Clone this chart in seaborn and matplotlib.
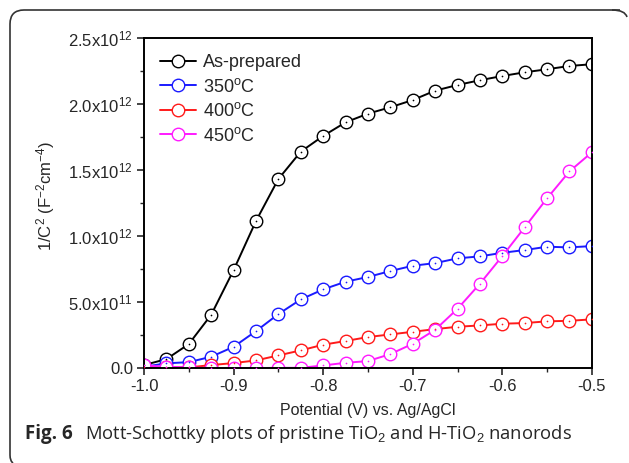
import pandas as pd
import seaborn as sns
import matplotlib.pyplot as plt
from matplotlib.path import Path
from matplotlib.patches import PathPatch

# Potential (V vs. Ag/AgCl), one point every 25 mV
potential = [-1.0, -0.975, -0.95, -0.925, -0.9, -0.875, -0.85, -0.825, -0.8, -0.775, -0.75,
             -0.725, -0.7, -0.675, -0.65, -0.625, -0.6, -0.575, -0.55, -0.525, -0.5]

# 1/C^2 values, in units of 1e12 F^-2 cm^-4
as_prepared = [0.023, 0.068, 0.182, 0.404, 0.742, 1.114, 1.432, 1.639, 1.758, 1.861, 1.927,
               1.975, 2.030, 2.101, 2.144, 2.180, 2.212, 2.240, 2.263, 2.288, 2.301]
t350 = [0.010, 0.036, 0.045, 0.086, 0.161, 0.280, 0.409, 0.520, 0.596, 0.654, 0.690,
        0.735, 0.775, 0.795, 0.831, 0.846, 0.873, 0.894, 0.919, 0.914, 0.924]
t400 = [0.010, 0.006, 0.005, 0.023, 0.038, 0.058, 0.096, 0.134, 0.177, 0.205, 0.235,
        0.255, 0.275, 0.295, 0.313, 0.323, 0.336, 0.341, 0.354, 0.358, 0.369]
t450 = [0.020, 0.010, 0.005, 0.000, 0.000, 0.000, 0.002, 0.002, 0.020, 0.040, 0.053,
        0.106, 0.184, 0.290, 0.449, 0.639, 0.848, 1.066, 1.286, 1.490, 1.634]

series_names = ["As-prepared", "350$^{\\rm o}$C", "400$^{\\rm o}$C", "450$^{\\rm o}$C"]
series_values = [as_prepared, t350, t400, t450]
colors = ["black", "#1a1aff", "#ff1a1a", "#ff1aff"]

y_ticks = [0.0, 0.5, 1.0, 1.5, 2.0, 2.5]
y_tick_labels = ["0.0", "5.0x10$^{11}$", "1.0x10$^{12}$", "1.5x10$^{12}$",
                 "2.0x10$^{12}$", "2.5x10$^{12}$"]
x_ticks = [-1.0, -0.9, -0.8, -0.7, -0.6, -0.5]

sns.set_style("ticks")
plt.rcParams["font.family"] = ["Liberation Sans", "DejaVu Sans"]
plt.rcParams["mathtext.fontset"] = "custom"
plt.rcParams["mathtext.rm"] = "Liberation Sans"
plt.rcParams["mathtext.it"] = "Liberation Sans"
plt.rcParams["axes.unicode_minus"] = False

fig = plt.figure(figsize=(6.29, 4.63), dpi=100)
ax = fig.add_axes([0.229, 0.205, 0.712, 0.713])

for name, vals, col in zip(series_names, series_values, colors):
    df = pd.DataFrame({"Potential": potential, "InvC2": [v * 1e12 for v in vals]})
    sns.lineplot(data=df, x="Potential", y="InvC2", ax=ax, color=col, linewidth=1.4,
                 marker="o", markersize=9, markerfacecolor="white",
                 markeredgecolor=col, markeredgewidth=1.0, label=name)
    # small centre dot inside each open circle
    sns.scatterplot(data=df, x="Potential", y="InvC2", ax=ax, color=col, s=1.5,
                    linewidth=0, legend=False, zorder=3)

ax.set_xlim(-1.0, -0.5)
ax.set_ylim(0, 2.5e12)
ax.set_xticks(x_ticks)
ax.set_xticklabels([f"{x:.1f}" for x in x_ticks], fontsize=12)
ax.set_xticks([-0.95, -0.85, -0.75, -0.65, -0.55], minor=True)
ax.set_yticks([v * 1e12 for v in y_ticks])
ax.set_yticklabels(y_tick_labels, fontsize=12)
ax.set_yticks([v * 1e12 for v in [0.25, 0.75, 1.25, 1.75, 2.25]], minor=True)
ax.tick_params(axis="both", which="major", direction="out", length=5, width=1.2, pad=3)
ax.tick_params(axis="both", which="minor", direction="out", length=3, width=1.0)
for sp in ax.spines.values():
    sp.set_linewidth(1.4)
    sp.set_color("black")

ax.set_xlabel("Potential (V) vs. Ag/AgCl", fontsize=11.5)
ax.xaxis.set_label_coords(0.5, -0.105)
ax.set_ylabel("1/C$^{2}$ (F$^{-2}$cm$^{-4}$)", fontsize=12)
ax.yaxis.set_label_coords(-0.195, 0.52)

leg = ax.legend(loc="upper left", frameon=False, fontsize=13, handlelength=2.0,
                handletextpad=0.35, labelspacing=0.36, borderaxespad=0.5,
                borderpad=0.4)

# caption
fig.text(0.040, 0.052, "Fig. 6", fontsize=13.5, fontweight="bold", family="Open Sans")
fig.text(0.135, 0.052, "Mott-Schottky plots of pristine TiO$_2$ and H-TiO$_2$ nanorods",
         fontsize=13.2, family="Open Sans")

# figure frame: top and left edges with rounded corners
W, H = 629.0, 463.0
def fx(px):
    return px / W
def fy(py):
    return 1 - py / H
verts = [(fx(620), fy(10)), (fx(24), fy(10)), (fx(10), fy(10)), (fx(10), fy(24)),
         (fx(10), fy(455)), (fx(10), fy(461)), (fx(13), fy(463))]
codes = [Path.MOVETO, Path.LINETO, Path.CURVE3, Path.CURVE3, Path.LINETO, Path.CURVE3, Path.CURVE3]
frame = PathPatch(Path(verts, codes), transform=fig.transFigure, fill=False,
                  edgecolor="#333333", linewidth=1.2)
fig.add_artist(frame)
corner = PathPatch(Path([(fx(612), fy(10)), (fx(625), fy(10)), (fx(627), fy(17))],
                        [Path.MOVETO, Path.CURVE3, Path.CURVE3]),
                   transform=fig.transFigure, fill=False, edgecolor="#333333", linewidth=1.2)
fig.add_artist(corner)

fig.savefig("out.png", dpi=100)
